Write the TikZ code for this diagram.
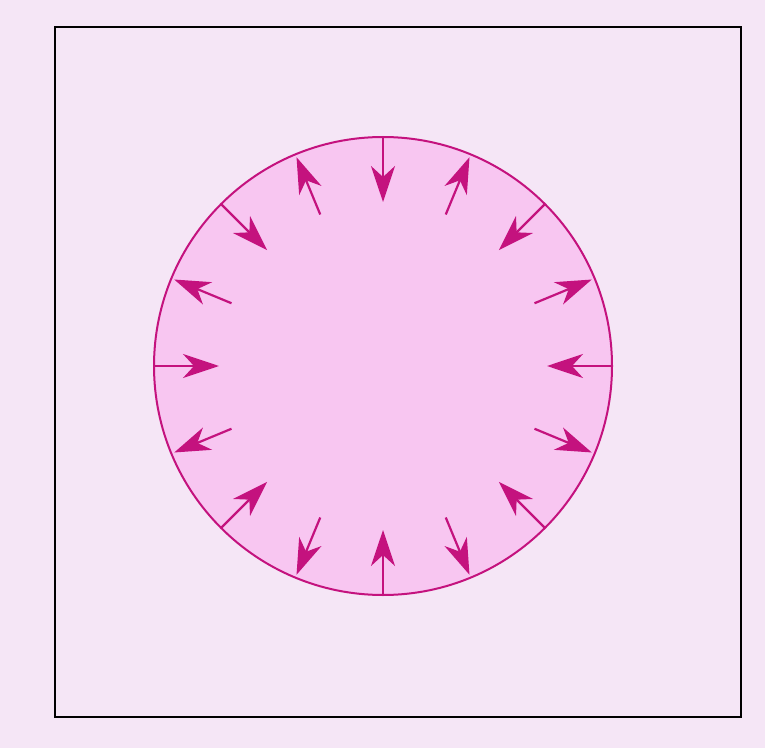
\documentclass[tikz,border=0pt]{standalone}
\usepackage{tikz}
\usetikzlibrary{arrows.meta, calc}
\definecolor{pagepink}{HTML}{F5E6F6}
\definecolor{discpink}{HTML}{F8C6F1}
\definecolor{forcemag}{HTML}{C4127E}

\begin{document}
\begin{tikzpicture}[x=1pt, y=1pt,
    disc/.style={circle, draw=forcemag, line width=2pt, fill=discpink,
                 minimum size=458pt, inner sep=0pt},
    force/.style={draw=forcemag, line width=2.2pt,
                  -{Stealth[length=36pt, width=24pt, inset=11pt]}}
]
\fill[pagepink] (0,0) rectangle (765,748);
\node[draw=black, line width=1.6pt, minimum width=686pt, minimum height=690pt,
      inner sep=0pt] (frame) at (398,376) {};
\node[disc] (drop) at (383,382) {};

% pushed in at every 45 degrees, pulled out in between
\foreach \a in {0,45,...,315} {
  \coordinate (tin) at ($(drop.center)+(\a:229pt)$);
  \coordinate (hin) at ($(drop.center)+(\a:164pt)$);
  \draw[force] (tin) -- (hin);
}
\foreach \a in {22.5,67.5,...,337.5} {
  \coordinate (tout) at ($(drop.center)+(\a:164pt)$);
  \coordinate (hout) at ($(drop.center)+(\a:226pt)$);
  \draw[force] (tout) -- (hout);
}
\end{tikzpicture}
\end{document}
